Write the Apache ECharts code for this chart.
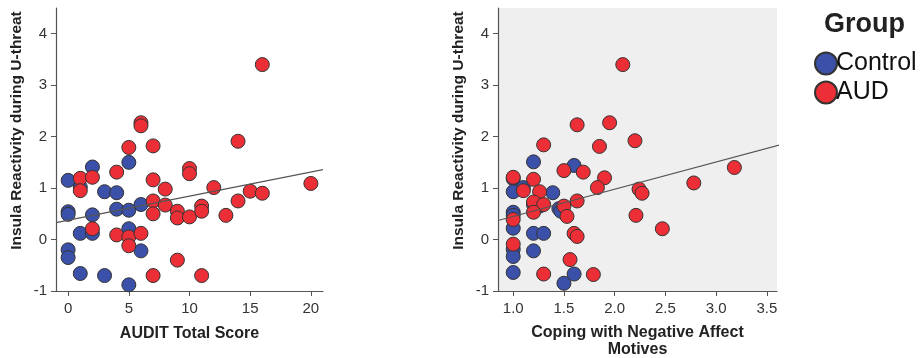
<!DOCTYPE html>
<html>
<head>
<meta charset="utf-8">
<script src="https://cdn.jsdelivr.net/npm/echarts@6/dist/echarts.min.js"></script>
<style>
  html, body { margin: 0; padding: 0; background: #fff; }
  #chart { width: 921px; height: 358px; }
</style>
</head>
<body>
<div id="chart"></div>
<script>
// left panel: AUDIT total score vs insula reactivity
const auditControl = [
  [0, 1.15], [1, 1.02], [2, 1.41], [3, 0.93], [4, 0.91], [5, 1.50], [6, 0.68],
  [4, 0.59], [5, 0.57], [0, 0.54], [0, 0.49], [2, 0.48], [1, 0.12], [2, 0.12],
  [5, 0.21], [0, -0.20], [0, -0.35], [6, -0.22], [1, -0.66], [3, -0.70], [5, -0.88]
]
const auditAud = [
  [16, 3.40], [6, 2.27], [6, 2.21], [5, 1.79], [7, 1.82], [14, 1.91], [4, 1.31],
  [10, 1.38], [10, 1.28], [1, 1.19], [2, 1.21], [7, 1.16], [20, 1.09], [1, 0.95],
  [8, 0.98], [12, 1.01], [15, 0.94], [16, 0.90], [14, 0.75], [7, 0.75], [7, 0.50],
  [8, 0.67], [9, 0.55], [9, 0.42], [10, 0.44], [11, 0.65], [11, 0.55], [13, 0.47],
  [2, 0.21], [4, 0.09], [5, 0.05], [5, -0.12], [6, 0.12], [9, -0.40], [7, -0.70], [11, -0.70]
]
const auditFit = [[-1, 0.33], [21, 1.36]]

// right panel: coping motives vs insula reactivity
const copingControl = [
  [1.2, 1.51], [1.6, 1.44], [1.0, 1.18], [1.1, 1.01], [1.0, 0.93], [1.39, 0.91],
  [1.2, 0.68], [1.26, 0.65], [1.45, 0.60], [1.47, 0.55], [1.0, 0.53], [1.0, 0.47],
  [1.0, 0.22], [1.2, 0.12], [1.3, 0.12], [1.0, -0.19], [1.0, -0.33], [1.2, -0.22],
  [1.0, -0.64], [1.6, -0.67], [1.5, -0.85]
]
const copingAud = [
  [2.08, 3.40], [1.63, 2.23], [1.95, 2.27], [1.30, 1.84], [1.85, 1.81], [2.20, 1.92],
  [1.50, 1.34], [1.69, 1.31], [3.18, 1.40], [1.90, 1.20], [1.20, 1.17], [1.0, 1.21],
  [2.78, 1.10], [1.1, 0.95], [1.26, 0.93], [1.83, 1.01], [2.24, 0.98], [2.27, 0.90],
  [1.63, 0.75], [1.2, 0.73], [1.3, 0.68], [1.2, 0.53], [1.5, 0.65], [1.53, 0.45],
  [2.21, 0.47], [1.0, 0.39], [2.47, 0.21], [1.6, 0.12], [1.63, 0.06], [1.0, -0.09],
  [1.56, -0.39], [1.3, -0.67], [1.79, -0.68]
]
const copingFit = [[0.85, 0.37], [3.65, 1.85]]

const yTicks = [-1, 0, 1, 2, 3, 4]
const auditTicks = [0, 5, 10, 15, 20]
const copingTicks = [1.0, 1.5, 2.0, 2.5, 3.0, 3.5]

const blue = '#3b50a8'
const red = '#ec2f36'
const font = 'Liberation Sans, Arial, sans-serif'

const axisLine = { show: true, onZero: false, lineStyle: { color: '#555', width: 1.2 } }
const tickStyle = { show: true, length: 5, lineStyle: { color: '#555' } }
const labelStyle = { color: '#333', fontSize: 15, fontFamily: font }
const nameStyle = { color: '#222', fontSize: 16, fontWeight: 'bold', fontFamily: font }

const yAxisFor = (idx) => ({
  type: 'value', gridIndex: idx, min: -1, max: 4.5,
  name: 'Insula Reactivity during U-threat',
  nameLocation: 'middle', nameGap: 31, nameMoveOverlap: false,
  nameTextStyle: { ...nameStyle, fontSize: 15.5, padding: [0, 0, 0, 38] },
  axisLine, splitLine: { show: false },
  axisTick: { ...tickStyle, customValues: yTicks },
  axisLabel: { ...labelStyle, margin: 9, customValues: yTicks }
})

const dots = (name, color, data, idx) => ({
  name, type: 'scatter', xAxisIndex: idx, yAxisIndex: idx, data,
  symbolSize: 14,
  itemStyle: { color, borderColor: '#333', borderWidth: 1, opacity: 1 }
})

const fitLine = (data, idx) => ({
  type: 'line', xAxisIndex: idx, yAxisIndex: idx, data,
  symbol: 'none', silent: true,
  lineStyle: { color: '#555', width: 1.2 }
})

const option = {
  backgroundColor: '#fff',
  animation: false,
  title: {
    text: 'Group', left: 819, top: 6,
    textStyle: { color: '#222', fontSize: 27, fontWeight: 'bold', fontFamily: font }
  },
  legend: {
    data: ['Control', 'AUD'], orient: 'vertical', left: 809, top: 46,
    icon: 'circle', itemWidth: 22, itemHeight: 22, itemGap: 4,
    textStyle: { color: '#111', fontSize: 25, fontFamily: font, padding: [0, 0, 0, -6] }
  },
  grid: [
    { left: 56, top: 8, width: 267, height: 283, outerBoundsMode: 'none' },
    { left: 498, top: 8, width: 279, height: 283, outerBoundsMode: 'none', show: true, backgroundColor: '#efefef', borderWidth: 0 }
  ],
  xAxis: [
    {
      type: 'value', gridIndex: 0, min: -1, max: 21,
      name: 'AUDIT Total Score', nameLocation: 'middle', nameGap: 35, nameMoveOverlap: false,
      nameTextStyle: nameStyle,
      axisLine, splitLine: { show: false },
      axisTick: { ...tickStyle, customValues: auditTicks },
      axisLabel: { ...labelStyle, margin: 10, customValues: auditTicks }
    },
    {
      type: 'value', gridIndex: 1, min: 0.85, max: 3.6,
      name: 'Coping with Negative Affect\nMotives', nameLocation: 'middle', nameGap: 33, nameMoveOverlap: false,
      nameTextStyle: { ...nameStyle, lineHeight: 17 },
      axisLine, splitLine: { show: false },
      axisTick: { ...tickStyle, customValues: copingTicks },
      axisLabel: { ...labelStyle, margin: 10, customValues: copingTicks, formatter: (v) => v.toFixed(1) }
    }
  ],
  yAxis: [yAxisFor(0), yAxisFor(1)],
  series: [
    dots('Control', blue, auditControl, 0),
    dots('AUD', red, auditAud, 0),
    fitLine(auditFit, 0),
    dots('Control', blue, copingControl, 1),
    dots('AUD', red, copingAud, 1),
    fitLine(copingFit, 1)
  ]
}

const chart = echarts.init(document.getElementById('chart'))
chart.setOption(option)
</script>
</body>
</html>
